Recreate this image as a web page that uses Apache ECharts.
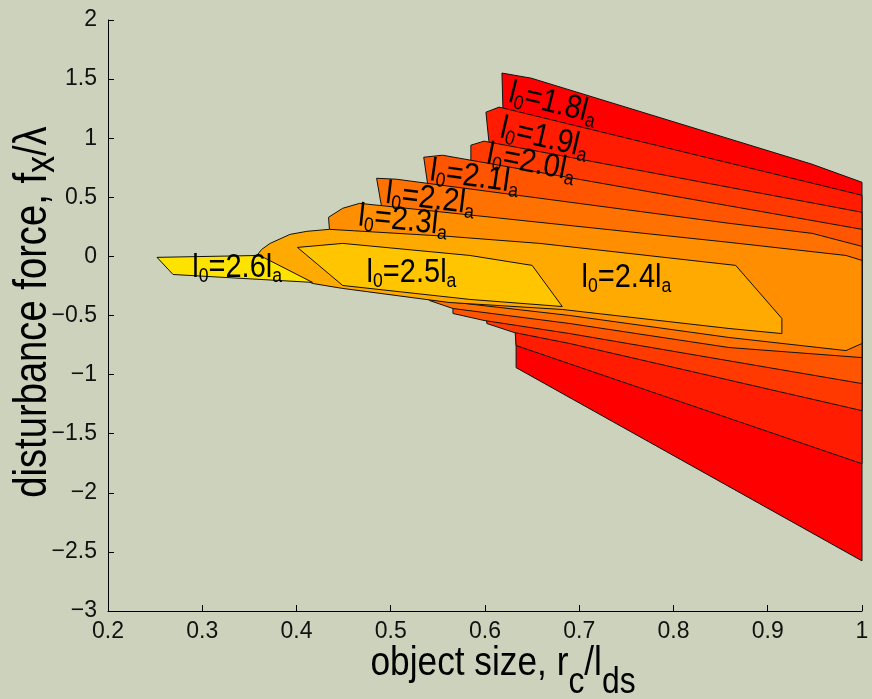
<!DOCTYPE html>
<html><head><meta charset="utf-8">
<script src="https://cdn.jsdelivr.net/npm/echarts@6/dist/echarts.min.js"></script>
<style>html,body{margin:0;padding:0;background:#CCD2BC;}#c{width:872px;height:699px;}</style>
</head><body><div id="c"></div>
<script>
// ---- data ----
const levels = ['1.8','1.9','2.0','2.1','2.2','2.3','2.4','2.5','2.6'];
const bandColors = ['#ff0000','#ff1c00','#ff3900','#ff5500','#ff7100','#ff8e00','#ffaa00','#ffc600','#ffe300'];
// region where l0 >= level (x = r_c/l_ds, y = f_x/lambda)
const region18 = [[0.618,1.551],[0.649,1.508],[0.947,0.780],[1.0,0.627],[1.0,-2.576],[0.633,-0.941],[0.633,-0.627],[0.619,1.254]];
const region19 = [[0.601,1.220],[0.615,1.263],[1.0,0.517],[1.0,-1.754],[0.633,-0.754],[0.632,-0.644],[0.604,0.983]];
const region20 = [[0.585,0.941],[0.599,0.975],[1.0,0.373],[1.0,-1.305],[0.690,-0.737],[0.631,-0.644],[0.602,-0.568],[0.585,0.788]];
const region21 = [[0.535,0.839],[0.555,0.856],[1.0,0.229],[1.0,-1.076],[0.690,-0.653],[0.599,-0.542],[0.566,-0.483],[0.566,-0.441],[0.539,0.619]];
const region22 = [[0.485,0.661],[0.506,0.653],[0.859,0.280],[0.947,0.195],[1.0,0.085],[1.0,-0.856],[0.859,-0.771],[0.690,-0.568],[0.566,-0.441],[0.541,-0.373],[0.490,0.432]];
const region23 = [[0.434,0.331],[0.449,0.407],[0.467,0.449],[0.859,0.119],[0.983,0.008],[1.0,-0.034],[1.0,-0.737],[0.983,-0.797],[0.859,-0.686],[0.690,-0.500],[0.541,-0.364],[0.435,0.220]];
const region24 = [[0.358,0.008],[0.363,0.059],[0.372,0.110],[0.393,0.186],[0.411,0.212],[0.435,0.229],[0.562,0.169],[0.658,0.110],[0.866,-0.076],[0.915,-0.525],[0.915,-0.653],[0.859,-0.610],[0.682,-0.449],[0.562,-0.390],[0.449,-0.271],[0.417,-0.229]];
const region25 = [[0.401,0.076],[0.449,0.110],[0.584,0.008],[0.650,-0.076],[0.682,-0.424],[0.584,-0.364],[0.449,-0.246]];
const region26 = [[0.252,-0.008],[0.361,0.008],[0.417,-0.220],[0.269,-0.153]];
const regions = [region18,region19,region20,region21,region22,region23,region24,region25,region26];

const labelX = [0.672,0.663,0.649,0.589,0.542,0.513,0.750,0.522,0.337];
const labelY = [1.290,0.995,0.785,0.665,0.480,0.297,-0.186,-0.144,-0.102];
const labelAngle = [14,13,11,8,7,6,0,0,0];

const xTicks = [0.2,0.3,0.4,0.5,0.6,0.7,0.8,0.9,1];
const yTicks = [-3,-2.5,-2,-1.5,-1,-0.5,0,0.5,1,1.5,2];

// ---- drawing ----
const FONT = '"Liberation Sans", Arial, Helvetica, sans-serif';
const mctx = document.createElement('canvas').getContext('2d');
function hasFont(name){
  mctx.font = '40px monospace'; const a = mctx.measureText('abcdefgh0123.').width;
  mctx.font = '40px "' + name + '", monospace'; const b = mctx.measureText('abcdefgh0123.').width;
  return Math.abs(a - b) > 0.5;
}
const NARROW = hasFont('Liberation Sans Narrow');
const TICK_FONT = NARROW ? '"Liberation Sans Narrow", "Liberation Sans", Arial, sans-serif' : FONT;
const TICK_SIZE = NARROW ? 26 : 23;

function tw(s, size){ mctx.font = size + 'px ' + FONT; return mctx.measureText(s).width; }
function txt(s, x, y, size){
  return {type:'text', x:x, y:y, style:{text:s, fontSize:size, fontFamily:FONT, fill:'#000',
    align:'left', verticalAlign:'bottom', textAlign:'left', textVerticalAlign:'bottom'}};
}
function buildParts(parts, size, subSize, subDrop, baseY){
  let cur = 0; const ch = [];
  parts.forEach(p => {
    const sz = p[1] ? subSize : size;
    ch.push(txt(p[0], cur, baseY + (p[1] ? subDrop : 0), sz));
    cur += tw(p[0], sz);
  });
  return {children: ch, width: cur};
}
function fmt(v){ const r = Math.round(v*10)/10; return (r < 0 ? '\u2212' : '') + String(Math.abs(r)); }

const chart = echarts.init(document.getElementById('c'), null, {renderer:'canvas'});
const GL = 108, GR = 10, GT = 20, GB = 88;
const SQ = 0.83; // narrow text look
const SQX = 0.86;

const xTitle = buildParts([['object size, r',0],['c',1],['/l',0],['ds',1]], 41, 37, 17, 0);
const yTitle = buildParts([['disturbance force, f',0],['x',1],['/\u03bb',0]], 46, 41, 7, 0);

chart.setOption({
  backgroundColor: '#CCD2BC',
  animation: false,
  grid: {left: GL, right: GR, top: GT, bottom: GB, containLabel: false, outerBoundsMode: 'none'},
  xAxis: {type:'value', min: xTicks[0], max: xTicks[xTicks.length-1], interval: 0.1,
    axisLine: {show:true, onZero:false, lineStyle:{color:'#000', width:1}},
    axisTick: {show:true, inside:true, length:6, lineStyle:{color:'#000'}},
    axisLabel: {show:true, fontSize:TICK_SIZE, fontFamily:TICK_FONT, color:'#111', margin:9, showMinLabel:true, showMaxLabel:true, formatter: fmt},
    splitLine: {show:false}},
  yAxis: {type:'value', min: yTicks[0], max: yTicks[yTicks.length-1], interval: 0.5,
    axisLine: {show:true, onZero:false, lineStyle:{color:'#000', width:1}},
    axisTick: {show:true, inside:true, length:6, lineStyle:{color:'#000'}},
    axisLabel: {show:true, fontSize:TICK_SIZE, fontFamily:TICK_FONT, color:'#111', margin:11, showMinLabel:true, showMaxLabel:true, formatter: fmt},
    splitLine: {show:false}},
  graphic: [
    {type:'group', x: 503 - xTitle.width*SQX/2, y: 684, scaleX: SQX, children: xTitle.children},
    {type:'group', x: 56, y: 312 + yTitle.width*SQ/2, rotation: Math.PI/2, children: [
      {type:'group', scaleX: SQ, children: yTitle.children}]}
  ],
  series: [
    {type:'custom', coordinateSystem:'cartesian2d', silent:true,
      data: regions.map(r => r[0]),
      renderItem: (params, api) => {
        const i = params.dataIndex;
        const pts = regions[i].map(p => api.coord(p));
        return {type:'polygon', shape:{points: pts},
          style:{fill: bandColors[i], stroke:'#111', lineWidth:1}};
      }},
    {type:'custom', coordinateSystem:'cartesian2d', silent:true,
      data: labelX.map((x,i) => [x, labelY[i]]),
      renderItem: (params, api) => {
        const i = params.dataIndex;
        const p = api.coord([labelX[i], labelY[i]]);
        const b = buildParts([['l',0],['0',1],['=' + levels[i] + 'l',0],['a',1]], 33, 20, 2, 16);
        b.children.forEach(c => { c.x -= b.width/2; });
        return {type:'group', x: p[0], y: p[1], rotation: -labelAngle[i]*Math.PI/180,
          children: [{type:'group', scaleX: 0.88, children: b.children}]};
      }}
  ]
});
</script></body></html>
